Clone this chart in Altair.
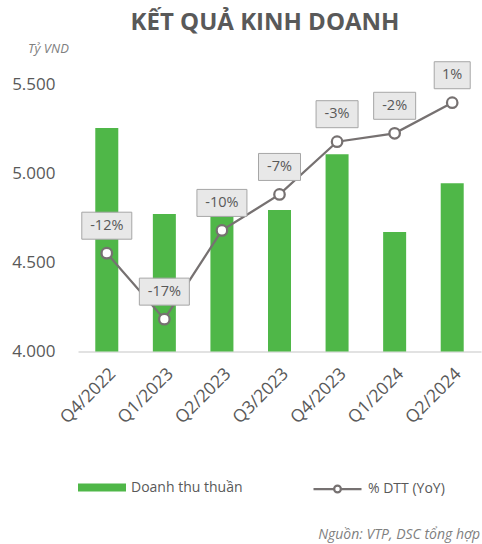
import altair as alt
import pandas as pd

quarters = ["Q4/2022", "Q1/2023", "Q2/2023", "Q3/2023", "Q4/2023", "Q1/2024", "Q2/2024"]
revenue = [5255, 4772, 4762, 4795, 5108, 4672, 4945]
yoy = [-11.9, -17.4, -10.0, -7.0, -2.6, -1.9, 0.65]
yoy_labels = ["-12%", "-17%", "-10%", "-7%", "-3%", "-2%", "1%"]

FONT = "Open Sans"
TXT = "#595959"
GREEN = "#4FB748"
GRAY = "#767171"

df = pd.DataFrame({"quarter": quarters, "revenue": revenue, "yoy": yoy, "label": yoy_labels})

x = alt.X("quarter:N", sort=quarters,
          scale=alt.Scale(paddingInner=0.6, paddingOuter=0.3),
          axis=alt.Axis(title=None, labelAngle=-45, labelFontSize=17.5, labelColor=TXT,
                        labelFont=FONT, ticks=False, domainColor="#D9D9D9", domainWidth=1.5,
                        labelPadding=13))

SEC = alt.Scale(domain=[-20.1, 2.17], nice=False, zero=False)
ysec = alt.Y("yoy:Q", scale=SEC, axis=None)

bars = alt.Chart(df).transform_calculate(series="'Doanh thu thuần'").mark_bar(width=23, clip=True).encode(
    x=x,
    y=alt.Y("revenue:Q", scale=alt.Scale(domain=[4000, 5500], nice=False, zero=False),
            axis=alt.Axis(values=[4000, 4500, 5000, 5500], title=None, grid=False, ticks=False,
                          domain=False, labelFontSize=17, labelColor=TXT, labelFont=FONT,
                          labelPadding=23,
                          labelExpr="replace(format(datum.value, ','), ',', '.')")),
    color=alt.Color("series:N", scale=alt.Scale(range=[GREEN]),
                    legend=alt.Legend(title=None, orient="none", legendX=0, legendY=379,
                                      symbolType="M-1,-0.17H1V0.17H-1Z", symbolSize=2304,
                                      symbolStrokeWidth=0, labelFontSize=14, labelFont=FONT,
                                      labelColor=TXT, labelOffset=5, padding=0)),
)

line = alt.Chart(df).transform_calculate(series2="'% DTT (YoY)'").mark_line(strokeWidth=2.25).encode(
    x=x, y=ysec,
    stroke=alt.Stroke("series2:N", scale=alt.Scale(range=[GRAY]),
                      legend=alt.Legend(title=None, orient="none", legendX=234, legendY=379,
                                        symbolType="M-1,0H-0.14M0.14,0H1M-0.14,0A0.14,0.14 0 1,1 0.14,0A0.14,0.14 0 1,1 -0.14,0Z",
                                        symbolSize=2304, symbolStrokeWidth=2.25,
                                        symbolFillColor="white",
                                        labelFontSize=14, labelFont=FONT,
                                        labelColor=TXT, labelOffset=5, padding=0)),
)

points = alt.Chart(df).mark_point(filled=True, fill="white", stroke=GRAY, strokeWidth=2.25,
                                  size=110, opacity=1, shape="circle").encode(x=x, y=ysec)


def boxes(n, w):
    return alt.Chart(df).transform_filter(f"length(datum.label) == {n}").mark_bar(
        width=w, fill="#E8E8E8", stroke="#A6A6A6", strokeWidth=1, yOffset=-41, y2Offset=-14
    ).encode(x=x, y=ysec, y2=alt.Y2("yoy:Q"))


labels = alt.Chart(df).mark_text(fontSize=14.5, font=FONT, color=TXT, yOffset=-27.5,
                                 baseline="middle").encode(x=x, y=ysec, text="label:N")

inner = alt.layer(line, points, boxes(4, 50), boxes(3, 42), boxes(2, 36), labels)

one = alt.Data(values=[{"a": 1}])
title = alt.Chart(one).mark_text(text="KẾT QUẢ KINH DOANH", font=FONT, fontSize=24,
                                 fontWeight="bold", color=TXT, align="center",
                                 baseline="alphabetic").encode(x=alt.value(187), y=alt.value(-54.5))
unit = alt.Chart(one).mark_text(text="Tỷ VND", font=FONT, fontSize=13, fontStyle="italic",
                                color="#808080", align="left",
                                baseline="alphabetic").encode(x=alt.value(-50), y=alt.value(-32))
source = alt.Chart(one).mark_text(text="Nguồn: VTP, DSC tổng hợp", font=FONT, fontSize=14,
                                  fontStyle="italic", color="#7F7F7F", align="right",
                                  baseline="alphabetic").encode(x=alt.value(402), y=alt.value(454))

chart = alt.layer(bars, inner, title, unit, source).resolve_scale(y="independent").properties(
    width=403, height=267,
    padding={"left": 78, "top": 84.5, "right": 1, "bottom": 192.5},
    autosize=alt.AutoSizeParams(type="none"),
).configure_view(stroke=None)

chart.save("out.html", embed_options={"renderer": "svg", "actions": False})
